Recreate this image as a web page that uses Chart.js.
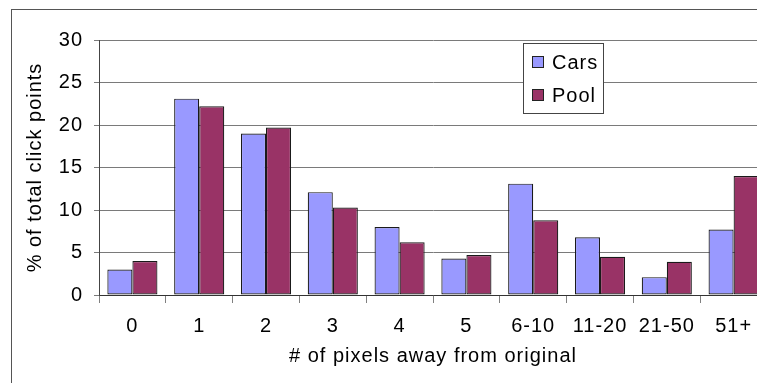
<!DOCTYPE html>
<html>
<head>
<meta charset="utf-8">
<script src="https://cdn.jsdelivr.net/npm/chart.js@4/dist/chart.umd.min.js"></script>
<style>
  html, body { margin: 0; padding: 0; background: #ffffff; overflow: hidden; }
  #wrap { position: relative; width: 780px; height: 383px; }
</style>
</head>
<body>
<div id="wrap"><canvas id="chart" width="780" height="383"></canvas></div>
<script>
// Distance categories (pixels away from the original click point)
const categories = ['0', '1', '2', '3', '4', '5', '6-10', '11-20', '21-50', '51+'];
// Share of all click points in each distance band, per image
const carsValues = [3.0, 23.1, 19.0, 12.1, 8.0, 4.3, 13.1, 6.8, 2.1, 7.7];
const poolValues = [4.0, 22.2, 19.7, 10.3, 6.2, 4.7, 8.8, 4.5, 3.9, 14.0];
// Value axis ticks
const yTicks = [0, 5, 10, 15, 20, 25, 30];

const FONT = "'Liberation Sans', Arial, sans-serif";

// Slightly spaced lettering for every text the chart draws
const spacing = {
  id: 'spacing',
  beforeLayout(chart) { chart.ctx.letterSpacing = '1px'; },
  beforeDraw(chart) { chart.ctx.letterSpacing = '1px'; }
};

// Outer frame around the whole figure
const frame = {
  id: 'frame',
  beforeDraw(chart) {
    const ctx = chart.ctx;
    ctx.save();
    ctx.strokeStyle = '#555555';
    ctx.lineWidth = 1;
    ctx.strokeRect(11.5, 9.5, 1000, 1000);
    ctx.restore();
  }
};

// Boxed legend placed inside the plot area
const boxLegend = {
  id: 'boxLegend',
  afterDatasetsDraw(chart) {
    const ctx = chart.ctx;
    const x = 523, y = 43, w = 80, h = 70;
    ctx.save();
    ctx.fillStyle = '#ffffff';
    ctx.fillRect(x, y, w, h);
    ctx.strokeStyle = '#444444';
    ctx.lineWidth = 1;
    ctx.strokeRect(x + 0.5, y + 0.5, w, h);
    ctx.font = '20px ' + FONT;
    ctx.letterSpacing = '1px';
    ctx.textBaseline = 'middle';
    ctx.textAlign = 'left';
    chart.data.datasets.forEach((ds, i) => {
      const cy = y + 19 + i * 33;
      ctx.fillStyle = ds.backgroundColor;
      ctx.fillRect(x + 9, cy - 6, 12, 12);
      ctx.strokeStyle = '#222222';
      ctx.strokeRect(x + 9.5, cy - 5.5, 11, 11);
      ctx.fillStyle = '#000000';
      ctx.fillText(ds.label, x + 29, cy + 1);
    });
    ctx.restore();
  }
};

new Chart(document.getElementById('chart'), {
  type: 'bar',
  data: {
    labels: categories,
    datasets: [
      { label: 'Cars', data: carsValues, backgroundColor: '#9999ff', borderColor: '#1a1a1a', borderWidth: 1.2, borderSkipped: false },
      { label: 'Pool', data: poolValues, backgroundColor: '#993366', borderColor: '#1a1a1a', borderWidth: 1.2, borderSkipped: false }
    ]
  },
  options: {
    responsive: false,
    animation: false,
    events: [],
    layout: { padding: { left: 0, top: 40, right: 13, bottom: 0 } },
    datasets: { bar: { categoryPercentage: 0.75, barPercentage: 1.0 } },
    plugins: { legend: { display: false }, tooltip: { enabled: false } },
    scales: {
      x: {
        offset: true,
        grid: { offset: true, drawOnChartArea: false, drawTicks: true, tickLength: 8, color: '#808080' },
        border: { color: '#333333', width: 1 },
        ticks: { color: '#000000', padding: 11, font: { family: FONT, size: 20 } },
        title: {
          display: true,
          text: '# of pixels away from original',
          color: '#000000',
          font: { family: FONT, size: 20 },
          padding: { top: 0, bottom: 15 }
        },
        afterFit(scale) { scale.height = 88; }
      },
      y: {
        min: yTicks[0],
        max: yTicks[yTicks.length - 1],
        afterBuildTicks(scale) { scale.ticks = yTicks.map(v => ({ value: v })); },
        grid: { color: '#7a7a7a', tickLength: 5, drawTicks: true },
        border: { color: '#444444', width: 1 },
        ticks: { color: '#000000', padding: 11, font: { family: FONT, size: 20 } },
        title: {
          display: true,
          text: '% of total click points',
          color: '#000000',
          font: { family: FONT, size: 20 },
          padding: { top: 23, bottom: 0 }
        },
        afterFit(scale) { scale.width = 99; }
      }
    }
  },
  plugins: [spacing, frame, boxLegend]
});
</script>
</body>
</html>
